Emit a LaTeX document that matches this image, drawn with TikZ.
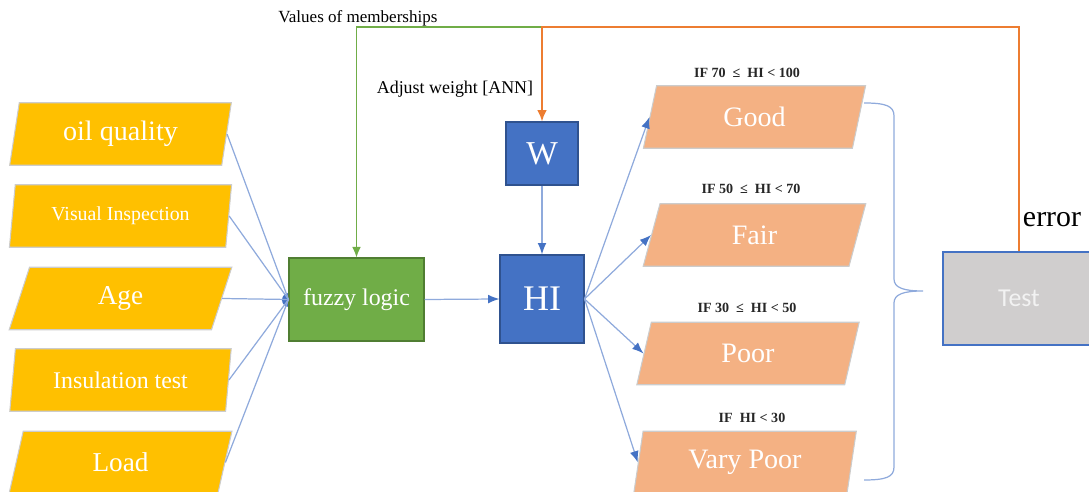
\documentclass[tikz,border=0pt]{standalone}
\usepackage{fontspec}
\setmainfont{Liberation Serif}
\newfontfamily\calfont{Carlito}
\usetikzlibrary{shapes.geometric,arrows.meta}
\definecolor{inyellow}{HTML}{FFC000}
\definecolor{outorange}{HTML}{F4B183}
\definecolor{fzgreen}{HTML}{70AD47}
\definecolor{fzdark}{HTML}{507E32}
\definecolor{hiblue}{HTML}{4472C4}
\definecolor{hidark}{HTML}{2F528F}
\definecolor{lineblue}{HTML}{8FAADC}
\definecolor{errorange}{HTML}{ED7D31}
\definecolor{testgray}{HTML}{D0CECE}
\newcommand{\fsz}[1]{\fontsize{#1pt}{#1pt}\selectfont}
\begin{document}
\begin{tikzpicture}[x=0.02cm,y=-0.02cm,
		para/.style={trapezium, trapezium left angle=78, trapezium right angle=102, trapezium stretches=true, minimum width=4.46cm, minimum height=1.25cm, inner sep=0pt, draw=white!80!black, line width=0.6pt, text=white},
		inbox/.style={para, fill=inyellow},
		outbox/.style={para, fill=outorange},
		bluebox/.style={rectangle, fill=hiblue, draw=hidark, line width=0.6pt, text=white, inner sep=0pt},
		link/.style={draw=lineblue, line width=0.7pt},
		linkarrow/.style={link, -{Latex[color=hiblue, length=6.5pt, width=5pt]}},
		cond/.style={font=\fsz{8}\bfseries, text=black!85}]
	\path[use as bounding box, clip] (0,0) rectangle (1089,492);
	\node[inbox, font=\fsz{16}] (oil) at (120.5,134) {oil quality};
	\node[inbox, font=\fsz{11.3}] (visual) at (120.5,216) {Visual Inspection};
	\node[inbox, font=\fsz{15.5}] (age) at (120.5,298.5) {Age};
	\node[inbox, font=\fsz{13.6}] (insul) at (120.5,380) {Insulation test};
	\node[inbox, font=\fsz{15.5}] (load) at (120.5,462.5) {Load};
	\fill[hiblue] (289,300) circle (0.14cm);
	\node[rectangle, fill=fzgreen, draw=fzdark, line width=0.6pt, text=white, minimum width=2.7cm, minimum height=1.66cm, inner sep=0pt, font=\fsz{13.6}] (fuzzy) at (356.5,299.5) {fuzzy logic};
	\node[bluebox, minimum width=1.44cm, minimum height=1.26cm, font=\fsz{19}] (w) at (542,153.5) {W};
	\node[bluebox, minimum width=1.68cm, minimum height=1.76cm, font=\fsz{20.5}] (hi) at (542,299) {HI};
	\node[outbox, font=\fsz{16}] (good) at (754.5,117) {Good};
	\node[outbox, font=\fsz{16}] (fair) at (754.5,235) {Fair};
	\node[outbox, font=\fsz{16}] (poor) at (748,353.5) {Poor};
	\node[outbox, font=\fsz{16}] (vpoor) at (745,462.5) {Vary Poor};
	\node[rectangle, fill=testgray, draw=hiblue, line width=0.6pt, text=white!95!black, minimum width=3.04cm, minimum height=1.86cm, inner sep=0pt, font=\calfont\fsz{14.7}] (test) at (1019,298.5) {Test};
	\node[cond] (cgood) at (747,73) {IF 70 \ ≤ \ HI < 100};
	\node[cond] (cfair) at (751,189) {IF 50 \ ≤ \ HI < 70};
	\node[cond] (cpoor) at (747,308) {IF 30 \ ≤ \ HI < 50};
	\node[cond] (cvpoor) at (752,418) {IF \ HI < 30};
	\node[font=\fsz{9.7}] (memb) at (358,18) {Values of memberships};
	\node[font=\fsz{10.2}] (adjust) at (455,89) {Adjust weight [ANN]};
	\node[font=\fsz{17}, anchor=base] (err) at (1052,227) {error};
	\coordinate (topline) at (1019,27);
	\foreach \n in {oil,visual,age,insul,load}
		\draw[link] (\n.east) -- (fuzzy.west);
	\draw[linkarrow] (fuzzy.east) -- (hi.west);
	\draw[linkarrow] (w.south) -- (hi.north);
	\foreach \n in {good,fair,poor,vpoor}
		\draw[linkarrow] (hi.east) -- (\n.west);
	\draw[fzgreen, line width=0.8pt, -{Latex[length=6pt, width=5pt]}] (w.north |- topline) -| (fuzzy.north);
	\draw[errorange, line width=1pt, -{Latex[length=6.5pt, width=5.5pt]}] (test.north) -- (topline) -| (w.north);
	\coordinate (btop) at (864,103);
	\coordinate (btip) at (923,291);
	\coordinate (bbot) at (864,480);
	\draw[link] (btop) .. controls (886,103) and (894,106) .. (894,116) -- (894,279) .. controls (894,288) and (904,291) .. (btip) .. controls (904,291) and (894,294) .. (894,303) -- (894,467) .. controls (894,477) and (886,480) .. (bbot);
\end{tikzpicture}
\end{document}
